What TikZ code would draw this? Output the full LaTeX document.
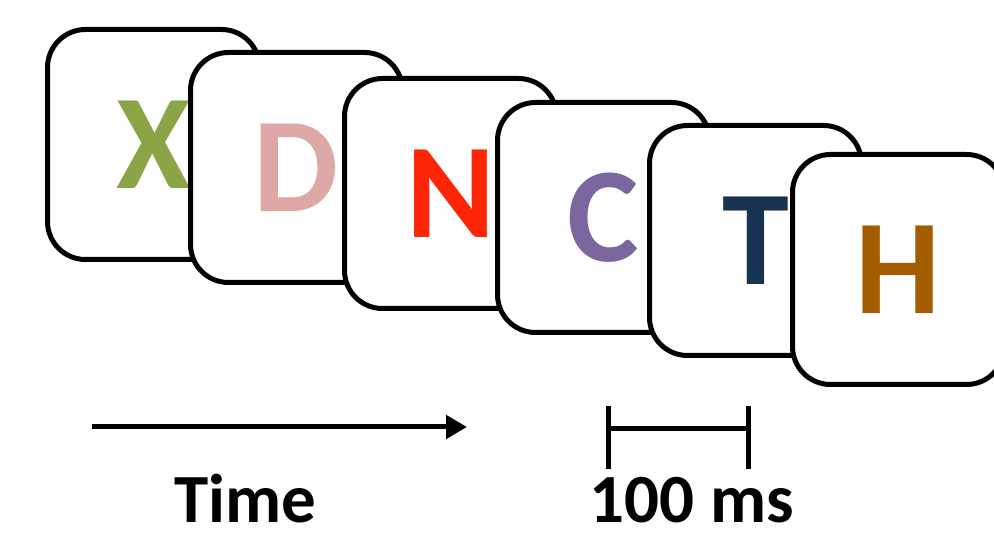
\documentclass[tikz,border=0pt]{standalone}
\usepackage{fontspec}
\setmainfont{Carlito}
\usetikzlibrary{arrows.meta}
\definecolor{cX}{HTML}{8AA446}
\definecolor{cD}{HTML}{DDA8A5}
\definecolor{cN}{HTML}{FF2608}
\definecolor{cC}{HTML}{7A67A0}
\definecolor{cT}{HTML}{183252}
\definecolor{cH}{HTML}{A35C00}
\tikzset{
  card/.style={draw=black, fill=white, line width=5pt, rounded corners=38pt,
    minimum width=212pt, minimum height=230pt, inner sep=0pt,
    font=\fontsize{135}{135}\selectfont\bfseries},
  lbl/.style={anchor=base, inner sep=0pt, text depth=0pt, font=\fontsize{69}{69}\selectfont\bfseries},
  bar/.style={line width=5pt},
}
\begin{document}
\begin{tikzpicture}[x=1pt,y=-1pt]
\useasboundingbox (0,0) rectangle (994,534);
\clip (0,0) rectangle (994,534);
\node[card, text=cX] (c1) at (153.5,144.5) {X};
\node[card, text=cD] (c2) at (296.5,167.5) {D};
\node[card, text=cN] (c3) at (450.5,193.5) {N};
\node[card, text=cC] (c4) at (603.5,217.5) {C};
\node[card, text=cT] (c5) at (755.5,240.5) {T};
\node[card, text=cH] (c6) at (898.5,269.5) {H};
\coordinate (a0) at (92,427);
\coordinate (a1) at (467,427);
\draw[line width=5pt, -{Triangle[length=21pt,width=23pt]}] (a0) -- (a1);
\node[lbl] (time) at (245,522) {Time};
\coordinate (b0) at (608,429);
\coordinate (b1) at (748,429);
\draw[bar] (b0) -- (b1);
\draw[bar] ([yshift=-40pt]b0) -- ([yshift=23pt]b0);
\draw[bar] ([yshift=-40pt]b1) -- ([yshift=23pt]b1);
\node[lbl] (ms) at (692,522) {100 ms};
\end{tikzpicture}
\end{document}
